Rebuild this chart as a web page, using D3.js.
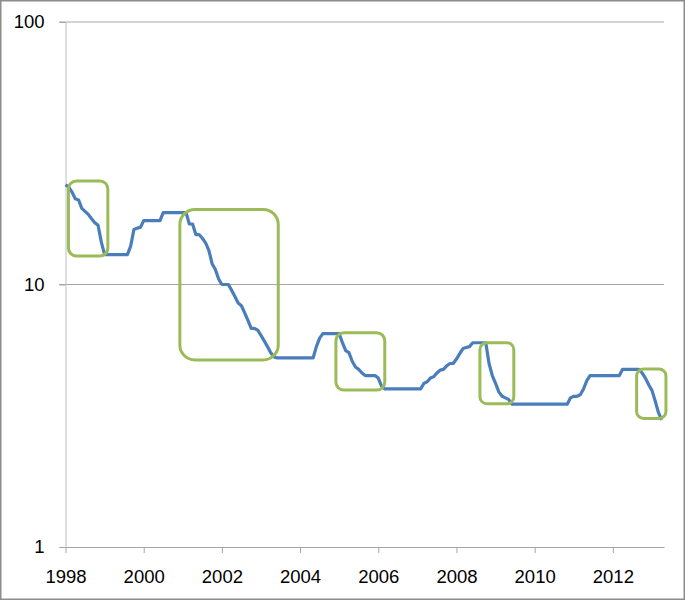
<!DOCTYPE html>
<html>
<head>
<meta charset="utf-8">
<script src="https://cdn.jsdelivr.net/npm/d3@7.9.0/dist/d3.min.js"></script>
<style>
  body { margin: 0; background: #fff; }
  svg { display: block; font-family: Carlito, "Liberation Sans", "Open Sans", sans-serif; }
</style>
</head>
<body>
<svg width="685" height="600"></svg>
<script>
// Monthly values, Jan 1998 .. Apr 2013
const values = [
  24, 23.5, 22.5, 21.2, 21, 19.5, 19, 18.5, 17.8, 17.2, 16.8, 14.5,
  13, 13, 13, 13, 13, 13, 13, 13, 14, 16.2, 16.4, 16.5,
  17.5, 17.5, 17.5, 17.5, 17.5, 17.5, 18.8, 18.8, 18.8, 18.8, 18.8, 18.8,
  18.8, 18.8, 17, 17, 15.5, 15.5, 15, 14.4, 13.5, 12, 11.4, 10.5,
  10, 10, 10, 9.5, 9, 8.5, 8.3, 7.8, 7.3, 6.8, 6.8, 6.7,
  6.4, 6.1, 5.8, 5.5, 5.3, 5.25, 5.25, 5.25, 5.25, 5.25, 5.25, 5.25,
  5.25, 5.25, 5.25, 5.25, 5.25, 5.8, 6.25, 6.5, 6.5, 6.5, 6.5, 6.5,
  6.5, 6, 5.6, 5.5, 5.1, 4.85, 4.75, 4.6, 4.5, 4.5, 4.5, 4.5,
  4.4, 4.1, 4, 4, 4, 4, 4, 4, 4, 4, 4, 4,
  4, 4, 4.2, 4.26, 4.4, 4.45, 4.6, 4.72, 4.75, 4.9, 5, 5,
  5.2, 5.45, 5.7, 5.75, 5.8, 6, 6, 6, 6, 6, 5, 4.5,
  4.2, 3.9, 3.75, 3.7, 3.65, 3.5, 3.5, 3.5, 3.5, 3.5, 3.5, 3.5,
  3.5, 3.5, 3.5, 3.5, 3.5, 3.5, 3.5, 3.5, 3.5, 3.5, 3.5, 3.7,
  3.75, 3.75, 3.8, 4, 4.3, 4.5, 4.5, 4.5, 4.5, 4.5, 4.5, 4.5,
  4.5, 4.5, 4.5, 4.75, 4.75, 4.75, 4.75, 4.75, 4.75, 4.6, 4.4, 4.15,
  3.95, 3.6, 3.25, 3.05
];

// Highlighted periods: [first month, last month, low value, high value]
const boxes = [
  [0.9, 13, 12.85, 24.8],
  [35.1, 65.3, 5.16, 19.3],
  [83, 98, 3.96, 6.55],
  [127.2, 137.6, 3.51, 6.0],
  [175.3, 184.3, 3.09, 4.77]
];
const boxRadius = [8, 15, 8, 7, 7];

const yearTicks = [1998, 2000, 2002, 2004, 2006, 2008, 2010, 2012];
const yTicks = [1, 10, 100];

const svg = d3.select('svg');

// outer frame
svg.append('rect')
  .attr('x', 0.75).attr('y', 0.75)
  .attr('width', 683.5).attr('height', 598.5)
  .attr('fill', '#fff').attr('stroke', '#8c8c8c').attr('stroke-width', 1.5);

const x = d3.scaleLinear().domain([0, 183.7]).range([65.5, 664]);
const y = d3.scaleLog().domain([1, 100]).range([547, 22]);

// gridlines
svg.append('g')
  .selectAll('line')
  .data(yTicks.filter(d => d > 1))
  .join('line')
  .attr('x1', 59).attr('x2', 664)
  .attr('y1', d => y(d)).attr('y2', d => y(d))
  .attr('stroke', '#a6a6a6').attr('stroke-width', 1);

// y axis
const yAxis = svg.append('g').attr('transform', 'translate(65.5,0)')
  .call(d3.axisLeft(y).tickValues(yTicks).tickFormat(d3.format('d')).tickSize(6).tickPadding(15));
yAxis.select('.domain').attr('stroke', '#bfbfbf');
yAxis.selectAll('.tick line').attr('stroke', '#a6a6a6');
yAxis.selectAll('text').attr('font-size', 18.5).attr('fill', '#000');

// x axis
const xAxis = svg.append('g').attr('transform', 'translate(0,547)')
  .call(d3.axisBottom(x)
    .tickValues(yearTicks.map(yr => (yr - 1998) * 12))
    .tickFormat((d, i) => yearTicks[i])
    .tickSize(6).tickSizeOuter(0).tickPadding(17));
xAxis.select('.domain').attr('stroke', '#a6a6a6');
xAxis.selectAll('.tick line').attr('stroke', '#a6a6a6');
xAxis.selectAll('text').attr('font-size', 18.5).attr('fill', '#000');

// series line
const line = d3.line()
  .x((d, i) => x(i))
  .y(d => y(d));

svg.append('path')
  .datum(values)
  .attr('d', line)
  .attr('fill', 'none')
  .attr('stroke', '#4a7ebb')
  .attr('stroke-width', 3.2)
  .attr('stroke-linejoin', 'round');

// highlight boxes
svg.append('g')
  .selectAll('rect')
  .data(boxes)
  .join('rect')
  .attr('x', d => x(d[0]))
  .attr('y', d => y(d[3]))
  .attr('width', d => x(d[1]) - x(d[0]))
  .attr('height', d => y(d[2]) - y(d[3]))
  .attr('rx', (d, i) => boxRadius[i])
  .attr('fill', 'none')
  .attr('stroke', '#9bbb59')
  .attr('stroke-width', 3);
</script>
</body>
</html>
